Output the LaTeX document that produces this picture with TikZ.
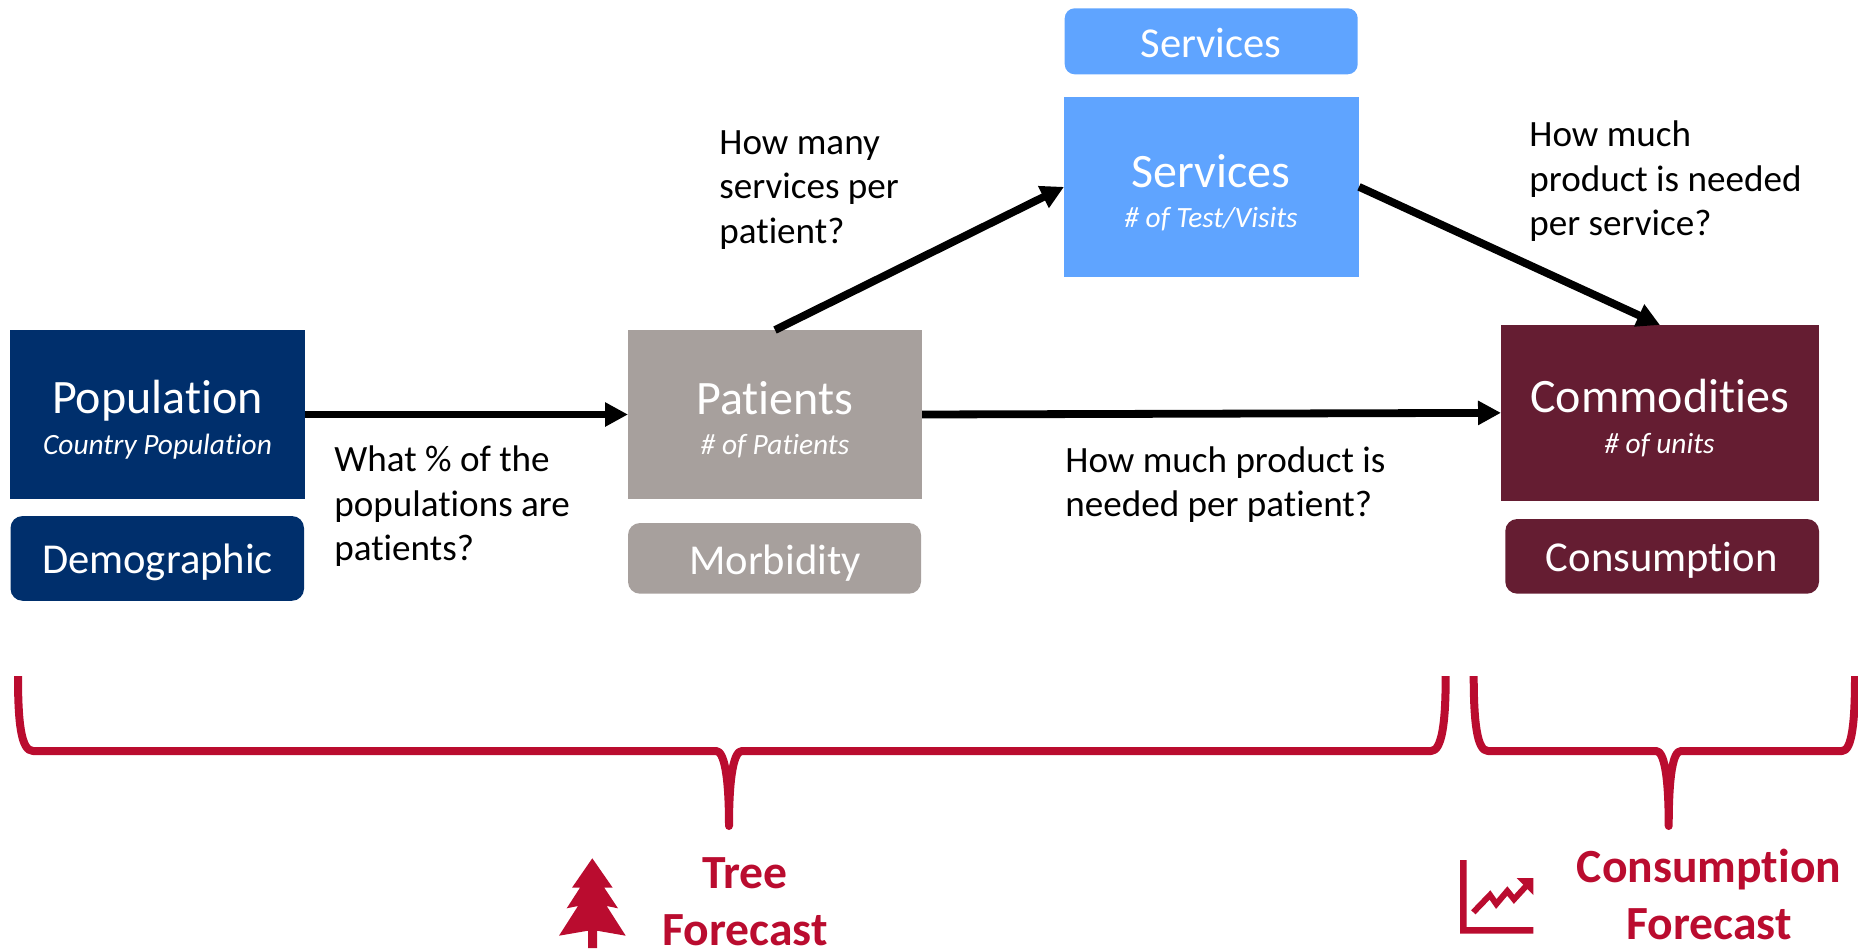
\documentclass[tikz,border=0pt]{standalone}
\usepackage{fontspec}
\setmainfont[Ligatures=NoCommon]{Carlito}
\usetikzlibrary{arrows.meta}
\definecolor{navy}{HTML}{002F6C}
\definecolor{stone}{HTML}{A7A09D}
\definecolor{sky}{HTML}{5FA4FF}
\definecolor{maroon}{HTML}{651D32}
\definecolor{crimson}{HTML}{BA0C2F}
\newcommand{\sz}[2]{\fontsize{#1}{#2}\selectfont}
\begin{document}
\begin{tikzpicture}[x=0.5pt,y=-0.5pt,
  box/.style={draw=none,inner sep=0pt,outer sep=0pt},
  title/.style={text=white,inner sep=0pt,anchor=base,font=\sz{24}{28}},
  sub/.style={text=white,inner sep=0pt,anchor=base,font=\sz{14.7}{17}\itshape},
  tag/.style={text=white,inner sep=0pt,anchor=base,font=\sz{21.3}{25}},
  ask/.style={inner sep=0pt,anchor=west,align=left,font=\sz{18.55}{22.2}},
  flow/.style={draw=black,line width=3.9pt,-{Triangle[length=11.5pt,width=11.5pt]}},
  brace/.style={draw=crimson,line width=4pt,line join=round},
  fc/.style={text=crimson,inner sep=0pt,align=center,font=\sz{23.8}{28.5}\bfseries}]
\useasboundingbox (0,0) rectangle (1858,948);
% boxes
\node[box,fill=navy,minimum width=147.25pt,minimum height=84.5pt] (pop) at (157.25,414.5) {};
\node[box,fill=navy,rounded corners=6pt,minimum width=146.75pt,minimum height=42.35pt] (dem) at (157.25,558.4) {};
\node[box,fill=stone,minimum width=147pt,minimum height=84.5pt] (pat) at (775,414.5) {};
\node[box,fill=stone,rounded corners=6pt,minimum width=146.5pt,minimum height=35.35pt] (mor) at (774.5,558.35) {};
\node[box,fill=sky,rounded corners=5pt,minimum width=146.5pt,minimum height=33pt] (sv1) at (1211.2,41.3) {};
\node[box,fill=sky,minimum width=147.5pt,minimum height=89.85pt] (sv2) at (1211.5,186.85) {};
\node[box,fill=maroon,minimum width=159pt,minimum height=87.85pt] (com) at (1660,412.85) {};
\node[box,fill=maroon,rounded corners=6pt,minimum width=156.85pt,minimum height=37.35pt] (con) at (1662.15,556.35) {};
% box texts
\node[title] (popT) at (157.5,413.7) {Population};
\node[sub] (popS) at (157.5,454.5) {Country Population};
\node[tag] (demT) at (157.5,573.8) {Demographic};
\node[title] (patT) at (775,414.5) {Patients};
\node[sub] (patS) at (775,454.2) {\# of Patients};
\node[tag] (morT) at (775,574.3) {Morbidity};
\node[tag] (sv1T) at (1211,57.2) {Services};
\node[title] (sv2T) at (1211,187.2) {Services};
\node[sub] (sv2S) at (1211,227.3) {\# of Test/Visits};
\node[title] (comT) at (1659.7,412) {Commodities};
\node[sub] (comS) at (1659.5,453.5) {\# of units};
\node[tag] (conT) at (1661.7,571) {Consumption};
% arrows
\draw[flow] (pop.east) -- (pat.west);
\draw[flow] (pat.east) -- (com.west);
\draw[flow] (pat.north) -- (sv2.west);
\draw[flow] (sv2.east) -- (com.north);
% questions
\node[ask] (q1) at (334,506.4) {What \% of the\\populations are\\patients?};
\node[ask] (q2) at (719,189.8) {How many\\services per\\patient?};
\node[ask] (q3) at (1529,181.4) {How much\\product is needed\\per service?};
\node[ask] (q4) at (1065,484.4) {How much product is\\needed per patient?};
% braces
\coordinate (b1top) at (18,676);
\coordinate (b1mid) at (729,826);
\coordinate (b1end) at (1445.7,676);
\draw[brace] (b1top) .. controls (18,722) and (21,751) .. (33,751) -- (716,751)
  .. controls (724,751) and (729,775) .. (b1mid)
  .. controls (729,775) and (734,751) .. (742,751) -- (1431,751)
  .. controls (1442,751) and (1445.7,722) .. (b1end);
\coordinate (b2top) at (1473.7,676);
\coordinate (b2mid) at (1668.7,826);
\coordinate (b2end) at (1855,676);
\draw[brace] (b2top) .. controls (1473.7,722) and (1477,751) .. (1488,751) -- (1656,751)
  .. controls (1664,751) and (1668.7,775) .. (b2mid)
  .. controls (1668.7,775) and (1673,751) .. (1681,751) -- (1842,751)
  .. controls (1852,751) and (1855,722) .. (b2end);
% tree icon
\fill[crimson] (592.3,858.3) -- (612.7,887.7) -- (604.3,887.7) -- (618,908.3) -- (606.7,906)
  -- (625.7,935.7) -- (597,930.7) -- (597,948) -- (588,948) -- (588,930.7) -- (559,935.7)
  -- (578,906) -- (566.7,908.3) -- (580,887.7) -- (572,887.7) -- cycle;
% chart icon
\fill[crimson] (1460,860) -- (1466.5,860) -- (1466.5,927) -- (1533.3,927) -- (1533.3,933.5) -- (1460,933.5) -- cycle;
\draw[crimson,line width=3pt] (1473.3,912.3) -- (1490,895) -- (1496.3,904) -- (1507.3,891) -- (1514,899.3) -- (1528,884);
\fill[crimson] (1516.7,878) -- (1533.3,878) -- (1533.3,895) -- cycle;
% forecast labels
\node[fc] (tf) at (745,901.5) {Tree\\Forecast};
\node[fc] (cf) at (1709,894) {Consumption\\Forecast};
\end{tikzpicture}
\end{document}
